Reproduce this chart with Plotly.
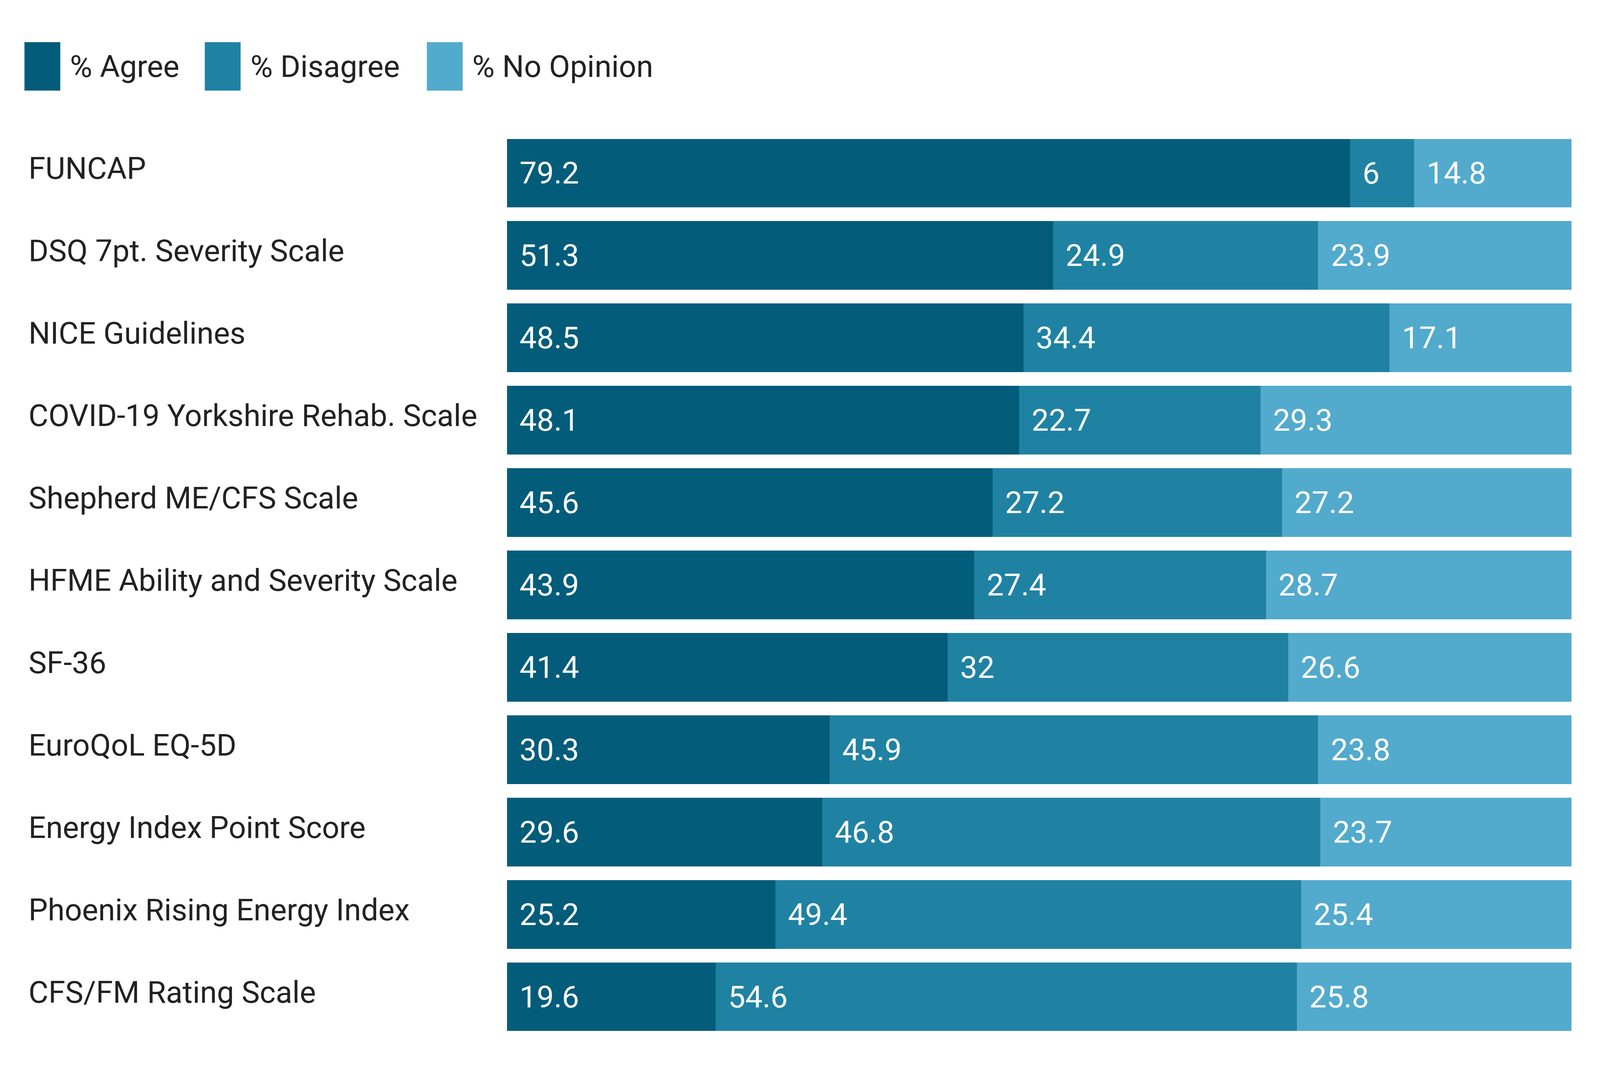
import plotly.graph_objects as go

categories = [
    "FUNCAP",
    "DSQ 7pt. Severity Scale",
    "NICE Guidelines",
    "COVID-19 Yorkshire Rehab. Scale",
    "Shepherd ME/CFS Scale",
    "HFME Ability and Severity Scale",
    "SF-36",
    "EuroQoL EQ-5D",
    "Energy Index Point Score",
    "Phoenix Rising Energy Index",
    "CFS/FM Rating Scale",
]
agree = [79.2, 51.3, 48.5, 48.1, 45.6, 43.9, 41.4, 30.3, 29.6, 25.2, 19.6]
disagree = [6, 24.9, 34.4, 22.7, 27.2, 27.4, 32, 45.9, 46.8, 49.4, 54.6]
no_opinion = [14.8, 23.9, 17.1, 29.3, 27.2, 28.7, 26.6, 23.8, 23.7, 25.4, 25.8]

series_names = ["% Agree", "% Disagree", "% No Opinion"]
series_values = [agree, disagree, no_opinion]
colors = ["#025c7a", "#1f82a3", "#52aacd"]

# design size (the layout is rescaled to the real window in the page)
W, H = 5447, 2730
L, R, T, B = 1726, 97, 338, 72
PW, PH = W - L - R, H - T - B
FONT = "Roboto"
FS = 104


def px_x(px):
    return (px - L) / PW


def px_y(py):
    return (H - B - py) / PH


fig = go.Figure()
for name, vals, col in zip(series_names, series_values, colors):
    fig.add_trace(go.Bar(
        y=categories, x=vals, name=name, orientation="h",
        marker=dict(color=col, line=dict(width=0)),
        showlegend=False, hoverinfo="x+y",
    ))

annotations = []
for s_idx, vals in enumerate(series_values):
    for i, cat in enumerate(categories):
        base = sum(series_values[k][i] for k in range(s_idx))
        annotations.append(dict(
            x=base, y=cat, xref="x", yref="y", text=f"{vals[i]:g}",
            showarrow=False, xanchor="left", yanchor="middle", xshift=40,
            font=dict(family=FONT, size=FS, color="white"),
        ))
for cat in categories:
    annotations.append(dict(
        x=px_x(94), y=cat, xref="paper", yref="y", text=cat,
        showarrow=False, xanchor="left", yanchor="middle", yshift=12,
        font=dict(family=FONT, size=FS, color="#222222"),
    ))

shapes = []
legend_sq_x = [83, 697, 1453]
sq_w, sq_top, sq_bot = 122, 108, 232
for name, col, lx in zip(series_names, colors, legend_sq_x):
    shapes.append(dict(
        type="rect", xref="paper", yref="paper",
        x0=px_x(lx), x1=px_x(lx + sq_w), y0=px_y(sq_bot), y1=px_y(sq_top),
        fillcolor=col, line=dict(width=0), layer="above",
    ))
    annotations.append(dict(
        x=px_x(lx + sq_w + 30), y=px_y((sq_top + sq_bot) / 2),
        xref="paper", yref="paper", text=name, showarrow=False,
        xanchor="left", yanchor="middle",
        font=dict(family=FONT, size=FS, color="#222222"),
    ))

fig.update_layout(
    width=W, height=H,
    margin=dict(l=L, r=R, t=T, b=B, pad=0),
    barmode="stack", bargap=0.166,
    plot_bgcolor="white", paper_bgcolor="white",
    xaxis=dict(range=[0, 100], visible=False, fixedrange=True),
    yaxis=dict(categoryorder="array", categoryarray=categories,
               autorange="reversed", visible=False, fixedrange=True),
    annotations=annotations, shapes=shapes,
    font=dict(family=FONT, size=FS, color="#222222"),
)

post_script = """
(function(){
  var gd = document.getElementById('{plot_id}');
  document.body.style.margin = '0';
  document.documentElement.style.margin = '0';
  document.body.style.overflow = 'hidden';
  var iw = window.innerWidth, ih = window.innerHeight;
  var sx = iw / %d, sy = ih / %d, s = Math.min(sx, sy);
  var Lo = gd.layout;
  gd.style.width = iw + 'px';
  gd.style.height = ih + 'px';
  var anns = Lo.annotations.map(function(a){
    var b = JSON.parse(JSON.stringify(a));
    b.font.size = a.font.size * s;
    if (b.xshift) b.xshift = b.xshift * sx;
    if (b.yshift) b.yshift = b.yshift * sy;
    return b;
  });
  Plotly.relayout(gd, {
    width: iw, height: ih,
    'margin.l': Lo.margin.l * sx, 'margin.r': Lo.margin.r * sx,
    'margin.t': Lo.margin.t * sy, 'margin.b': Lo.margin.b * sy,
    annotations: anns
  });
})();
""" % (W, H)

fig.write_html("out.html", post_script=post_script,
               config={"displayModeBar": False, "responsive": False})
